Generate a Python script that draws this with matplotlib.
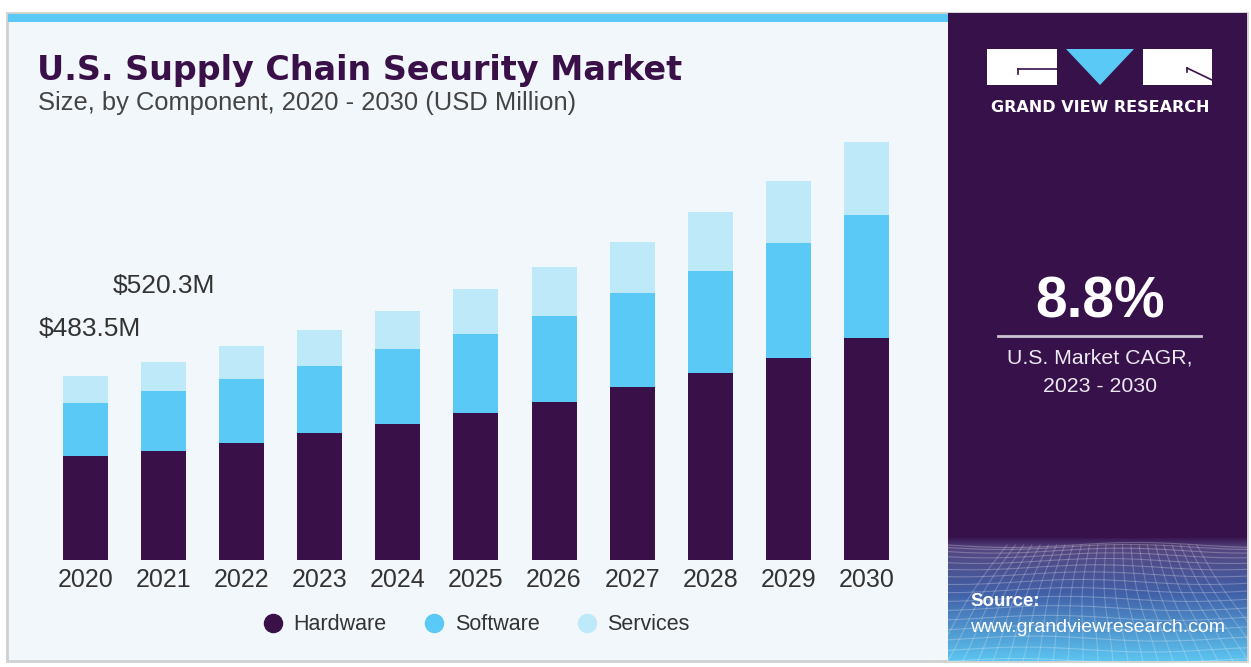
import numpy as np
import matplotlib
matplotlib.use("Agg")
import matplotlib.pyplot as plt
from matplotlib.patches import Rectangle, Polygon
from matplotlib.lines import Line2D
from matplotlib.colors import to_rgb

# market size by component, USD million
years = ["2020", "2021", "2022", "2023", "2024", "2025", "2026", "2027", "2028", "2029", "2030"]
hardware = [271.5, 287.0, 307.8, 334.1, 357.0, 385.2, 415.0, 453.7, 490.6, 531.7, 582.9]
software = [141.2, 155.7, 167.1, 176.5, 196.8, 209.0, 227.4, 247.7, 270.4, 301.4, 324.9]
services = [70.8, 77.6, 88.5, 94.1, 101.7, 117.8, 127.5, 136.0, 153.9, 165.0, 191.6]
total_labels = {0: "$483.5M", 1: "$520.3M"}
cagr = "8.8%"

W, H = 1251, 667
PURPLE = "#3a1048"
PANEL = "#37114a"
SKY = "#5bc9f5"
PALE = "#bde9f9"
BG = "#f2f7fb"
TXT = "#333333"
SANS = "Liberation Sans"

fig = plt.figure(figsize=(W / 100, H / 100), dpi=100, facecolor="white")

# pixel-space canvas for the frame, side panel and decorations
bg = fig.add_axes([0, 0, 1, 1])
bg.axis("off")
bg.add_patch(Rectangle((7, 13), 1240, 648, facecolor=BG, edgecolor="#d0d0d0", lw=2, zorder=0))
bg.add_patch(Rectangle((8, 14), 940, 8, facecolor=SKY, edgecolor="none", zorder=1))
bg.add_patch(Rectangle((948, 13), 299, 648, facecolor=PANEL, edgecolor="none", zorder=1))

# gradient at the bottom of the side panel
stops_y = [0.0, 0.08, 0.45, 1.0]
stops_c = [to_rgb("#3a1a54"), to_rgb("#55467f"), to_rgb("#4160a8"), to_rgb("#5cc4f0")]
t = np.linspace(0, 1, 120)
grad = np.stack([np.interp(t, stops_y, [c[i] for c in stops_c]) for i in range(3)], axis=-1)
grad = np.repeat(grad[:, None, :], 10, axis=1)
bg.imshow(grad, extent=(948, 1247, 661, 538), aspect="auto", zorder=2, interpolation="bilinear")

# faint wire mesh over the gradient
for k in np.linspace(0, 1, 16):
    yy = 545 + 116 * k ** 1.5
    xs = np.linspace(948, 1247, 60)
    bg.plot(xs, yy + 2.5 * np.sin((xs - 948) / 40 + k * 3), color="white", alpha=0.25, lw=0.8, zorder=3)
for xb in np.arange(930, 1280, 15):
    ys = np.linspace(545, 661, 30)
    xs = 1100 + (xb - 1100) * (0.55 + 0.45 * (ys - 545) / 116) + 3 * np.sin(ys / 25)
    bg.plot(xs, ys, color="white", alpha=0.22, lw=0.8, zorder=3)

# logo
bg.add_patch(Rectangle((987, 49), 70, 36, facecolor="white", edgecolor="none", zorder=4))
bg.plot([1018, 1057], [69, 69], color=PANEL, lw=1.2, zorder=5)
bg.plot([1018, 1018], [69, 74], color=PANEL, lw=1.2, zorder=5)
bg.add_patch(Polygon([(1066, 49), (1134, 49), (1100, 85)], closed=True, facecolor=SKY, edgecolor="none", zorder=4))
bg.add_patch(Rectangle((1143, 49), 69, 36, facecolor="white", edgecolor="none", zorder=4))
bg.plot([1187, 1212], [68, 80], color=PANEL, lw=1.2, zorder=5)
bg.plot([1187, 1187], [68, 72], color=PANEL, lw=1.2, zorder=5)
bg.text(1100, 107, "GRAND VIEW RESEARCH", color="white", fontsize=11.5, fontweight="bold",
        family="DejaVu Sans", ha="center", va="center", zorder=5)

# CAGR block
bg.text(1100, 302, cagr, color="white", fontsize=41, fontweight="bold", family=SANS,
        ha="center", va="center", zorder=5)
bg.plot([998, 1201], [336, 336], color="#cbc3d4", lw=2, zorder=5)
bg.text(1100, 358, "U.S. Market CAGR,", color="#ece8f0", fontsize=15.3, family=SANS,
        ha="center", va="center", zorder=5)
bg.text(1100, 386, "2023 - 2030", color="#ece8f0", fontsize=15.3, family=SANS,
        ha="center", va="center", zorder=5)

bg.text(970, 602, "Source:", color="white", fontsize=13.5, fontweight="bold", family=SANS,
        ha="left", va="center", zorder=5)
bg.text(970, 627, "www.grandviewresearch.com", color="white", fontsize=14, family=SANS,
        ha="left", va="center", zorder=5)

# titles
bg.text(37, 80, "U.S. Supply Chain Security Market", color=PURPLE, fontsize=24,
        fontweight="heavy", family="DejaVu Sans", ha="left", va="baseline", zorder=5)
bg.text(38, 110, "Size, by Component, 2020 - 2030 (USD Million)", color="#444444",
        fontsize=18.4, family=SANS, ha="left", va="baseline", zorder=5)

bg.set_xlim(0, W)
bg.set_ylim(H, 0)

# stacked bars
base_px = 559.5
per_px = 2.635
ymax = 1130
ax_h = ymax / per_px
ax = fig.add_axes([46.45 / W, (H - base_px) / H, 859 / W, ax_h / H])
ax.patch.set_alpha(0)
x = np.arange(len(years))
hw = np.array(hardware)
sw = np.array(software)
sv = np.array(services)
ax.bar(x, hw, width=0.576, color=PURPLE, label="Hardware")
ax.bar(x, sw, width=0.576, bottom=hw, color=SKY, label="Software")
ax.bar(x, sv, width=0.576, bottom=hw + sw, color=PALE, label="Services")
ax.set_xlim(-0.5, len(years) - 0.5)
ax.set_ylim(0, ymax)
for s in ax.spines.values():
    s.set_visible(False)
ax.set_yticks([])
ax.set_xticks(x)
ax.set_xticklabels(years, fontsize=18, family=SANS, color=TXT)
ax.tick_params(axis="x", length=0, pad=6)

totals = hw + sw + sv
offsets = {0: (3, 34), 1: (0, 55)}
for i, lab in total_labels.items():
    ax.annotate(lab, (x[i], totals[i]), xytext=offsets[i], textcoords="offset points",
                ha="center", va="center", fontsize=19, family=SANS, color=TXT)

handles = [Line2D([], [], marker="o", ls="none", markersize=13, color=c, label=l)
           for c, l in [(PURPLE, "Hardware"), (SKY, "Software"), (PALE, "Services")]]
leg = fig.legend(handles=handles, loc="center", bbox_to_anchor=(476 / W, 1 - 625 / H), ncol=3,
                 frameon=False, handletextpad=0.45, columnspacing=1.7, handlelength=1.0,
                 prop={"family": SANS, "size": 15.5})
for txt in leg.get_texts():
    txt.set_color(TXT)

fig.savefig("out.png", dpi=100, facecolor="white")
